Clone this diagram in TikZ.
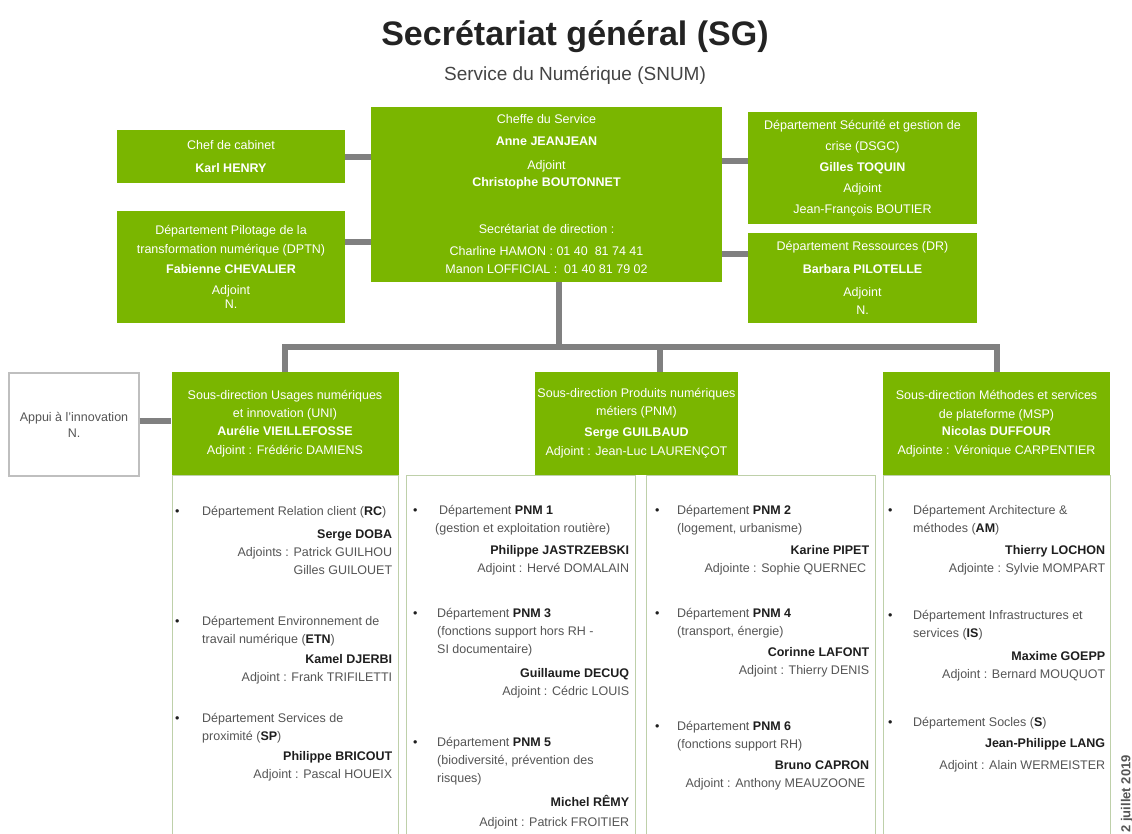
\documentclass[tikz,border=0pt]{standalone}
\usepackage{fontspec}
\setmainfont{Liberation Sans}
\usetikzlibrary{calc}
\definecolor{sgreen}{RGB}{122,182,0}
\definecolor{cgray}{RGB}{128,128,128}
\definecolor{lborder}{RGB}{190,208,170}
\definecolor{lgray}{RGB}{85,85,85}
\definecolor{dgray}{RGB}{30,30,30}
\definecolor{tgray}{RGB}{35,35,35}
\newcommand{\gf}{\fontsize{12.5}{19}\selectfont}
\newcommand{\lf}{\fontsize{12.5}{18}\selectfont}
\newcommand{\B}[1]{\makebox[#1pt][l]{\color{dgray}\textbullet}}
\newcommand{\I}[1]{\hspace*{#1pt}}
\newcommand{\N}[1]{{\color{dgray}\bfseries #1}}
\newcommand{\K}[1]{{\color{dgray}\bfseries #1}}
\tikzset{
  gbox/.style={fill=sgreen, draw=none, text=white, align=center, font=\gf, inner sep=0pt},
  wbox/.style={fill=white, draw=lborder, line width=1.2pt, inner sep=0pt},
  lbox/.style={fill=white, draw=lborder, line width=1.3pt, inner sep=0pt, anchor=north west},
  conn/.style={draw=cgray, line width=6pt},
  dept/.style={anchor=base west, inner sep=0pt, text=lgray, font=\lf}
}
\begin{document}
\begin{tikzpicture}[x=1pt,y=-1pt]
\useasboundingbox (0,0) rectangle (1132,834);
% titles
\node[font=\bfseries\fontsize{34}{40}\selectfont, text=tgray] (title) at (575,37) {Secrétariat général (SG)};
\node[font=\fontsize{19}{22}\selectfont, text=tgray!85] (subtitle) at (575,75) {Service du Numérique (SNUM)};
% list boxes
\node[lbox, minimum width=226pt, minimum height=380pt] (unil) at (172,475) {};
\node[lbox, minimum width=229pt, minimum height=380pt] (pnml) at (406,475) {};
\node[lbox, minimum width=229pt, minimum height=380pt] (pnmr) at (646,475) {};
\node[lbox, minimum width=227pt, minimum height=380pt] (mspl) at (883,475) {};
% top boxes
\node[gbox, minimum width=228pt, minimum height=53pt] (chef) at (231,157) {Chef de cabinet\\[4pt]\textbf{Karl HENRY}};
\node[gbox, minimum width=228pt, minimum height=112pt] (dptn) at (231,267) {Département Pilotage de la\\transformation numérique (DPTN)\\[1pt]\textbf{Fabienne CHEVALIER}\\[2pt]Adjoint\\[-5pt]N.};
\node[gbox, minimum width=351pt, minimum height=175pt] (central) at (546.5,194.5) {Cheffe du Service\\[3pt]\textbf{Anne JEANJEAN}\\[5pt]Adjoint\\[-2pt]\textbf{Christophe BOUTONNET}\\[28pt]Secrétariat de direction :\\[3pt]Charline HAMON : 01 40~~81 74 41\\[-1pt]Manon LOFFICIAL :~~01 40 81 79 02};
\node[gbox, minimum width=229pt, minimum height=112pt] (dsgc) at (862.5,168) {Département Sécurité et gestion de\\[2pt]crise (DSGC)\\[2pt]\textbf{Gilles TOQUIN}\\[2pt]Adjoint\\[2pt]Jean-François BOUTIER};
\node[gbox, minimum width=229pt, minimum height=90pt] (dr) at (862.5,278) {Département Ressources (DR)\\[4pt]\textbf{Barbara PILOTELLE}\\[4pt]Adjoint\\[-1pt]N.};
% sub-directions
\node[wbox, draw=cgray!50, minimum width=130pt, minimum height=103pt, text=lgray, font=\gf, align=center] (appui) at (74,424.5) {Appui à l'innovation\\[-3pt]N.};
\node[gbox, minimum width=227pt, minimum height=103pt] (uni) at (285,423.5) {Sous-direction Usages numériques\\[-1pt]et innovation (UNI)\\[-1pt]\textbf{Aurélie VIEILLEFOSSE}\\[0pt]Adjoint : Frédéric DAMIENS};
\node[gbox, minimum width=203pt, minimum height=103pt] (pnm) at (636.5,423.5) {Sous-direction Produits numériques\\[-1pt]métiers (PNM)\\[2pt]\textbf{Serge GUILBAUD}\\[0pt]Adjoint : Jean-Luc LAURENÇOT};
\node[gbox, minimum width=227pt, minimum height=103pt] (msp) at (996.5,423.5) {Sous-direction Méthodes et services\\[0pt]de plateforme (MSP)\\[-2pt]\textbf{Nicolas DUFFOUR}\\[0pt]Adjointe : Véronique CARPENTIER};
% connectors
\coordinate (cy1) at (358,157);
\coordinate (cy2) at (358,242);
\coordinate (cy3) at (735,161);
\coordinate (cy4) at (735,254);
\coordinate (hub) at (559,347);
\coordinate (pnmdrop) at (660,347);
\coordinate (ay) at (155,421);
\draw[conn] (chef.east |- cy1) -- (central.west |- cy1);
\draw[conn] (dptn.east |- cy2) -- (central.west |- cy2);
\draw[conn] (central.east |- cy3) -- (dsgc.west |- cy3);
\draw[conn] (central.east |- cy4) -- (dr.west |- cy4);
\draw[conn] (hub |- central.south) -- (hub);
\draw[conn] (uni.north) |- (hub) -| (msp.north);
\draw[conn] (pnmdrop) -- (pnmdrop |- pnm.north);
\draw[conn] (appui.east |- ay) -- (uni.west |- ay);
% UNI departments
\node[dept] (rc) at (175,515.5) {\parbox[t]{217pt}{\raggedright
\B{27}Département Relation client (\K{RC})\\[5pt]
\hfill\N{Serge DOBA}\\
\hfill Adjoints : Patrick GUILHOU\\
\hfill Gilles GUILOUET}};
\node[dept] (etn) at (175,625.5) {\parbox[t]{217pt}{\raggedright
\B{27}Département Environnement de\\
\I{27}travail numérique (\K{ETN})\\[2pt]
\hfill\N{Kamel DJERBI}\\
\hfill Adjoint : Frank TRIFILETTI}};
\node[dept] (sp) at (175,722.5) {\parbox[t]{217pt}{\raggedright
\B{27}Département Services de\\
\I{27}proximité (\K{SP})\\[2pt]
\hfill\N{Philippe BRICOUT}\\
\hfill Adjoint : Pascal HOUEIX}};
% PNM left
\node[dept] (pnm1) at (413,514.5) {\parbox[t]{216pt}{\raggedright
\B{26}Département \K{PNM 1}\\
\I{22}(gestion et exploitation routière)\\[4pt]
\hfill\N{Philippe JASTRZEBSKI}\\
\hfill Adjoint : Hervé DOMALAIN}};
\node[dept] (pnm3) at (413,617.5) {\parbox[t]{216pt}{\raggedright
\B{24}Département \K{PNM 3}\\
\I{24}(fonctions support hors RH -\\
\I{24}SI documentaire)\\[6pt]
\hfill\N{Guillaume DECUQ}\\
\hfill Adjoint : Cédric LOUIS}};
\node[dept] (pnm5) at (413,746.5) {\parbox[t]{216pt}{\raggedright
\B{24}Département \K{PNM 5}\\
\I{24}(biodiversité, prévention des\\
\I{24}risques)\\[6pt]
\hfill\N{Michel RÊMY}\\[2pt]
\hfill Adjoint : Patrick FROITIER}};
% PNM right
\node[dept] (pnm2) at (655,514.5) {\parbox[t]{214pt}{\raggedright
\B{22}Département \K{PNM 2}\\
\I{22}(logement, urbanisme)\\[4pt]
\hfill\N{Karine PIPET}\\
\hfill Adjointe : Sophie QUERNEC\I{3}}};
\node[dept] (pnm4) at (655,617.5) {\parbox[t]{214pt}{\raggedright
\B{22}Département \K{PNM 4}\\
\I{22}(transport, énergie)\\[3pt]
\hfill\N{Corinne LAFONT}\\
\hfill Adjoint : Thierry DENIS}};
\node[dept] (pnm6) at (655,730.5) {\parbox[t]{214pt}{\raggedright
\B{22}Département \K{PNM 6}\\
\I{22}(fonctions support RH)\\[3pt]
\hfill\N{Bruno CAPRON}\\
\hfill Adjoint : Anthony MEAUZOONE\I{4}}};
% MSP
\node[dept] (am) at (888,514.5) {\parbox[t]{217pt}{\raggedright
\B{25}Département Architecture \&\\
\I{25}méthodes (\K{AM})\\[4pt]
\hfill\N{Thierry LOCHON}\\
\hfill Adjointe : Sylvie MOMPART}};
\node[dept] (is) at (888,619.5) {\parbox[t]{217pt}{\raggedright
\B{25}Département Infrastructures et\\
\I{25}services (\K{IS})\\[5pt]
\hfill\N{Maxime GOEPP}\\
\hfill Adjoint : Bernard MOUQUOT}};
\node[dept] (socles) at (888,726.5) {\parbox[t]{217pt}{\raggedright
\B{25}Département Socles (\K{S})\\[3pt]
\hfill\N{Jean-Philippe LANG}\\[4pt]
\hfill Adjoint : Alain WERMEISTER}};
% date
\node[rotate=90, anchor=east, inner sep=0pt, text=lgray, font=\bfseries\fontsize{13}{15}\selectfont] (date) at (1127,755) {2 juillet 2019};
\end{tikzpicture}
\end{document}
